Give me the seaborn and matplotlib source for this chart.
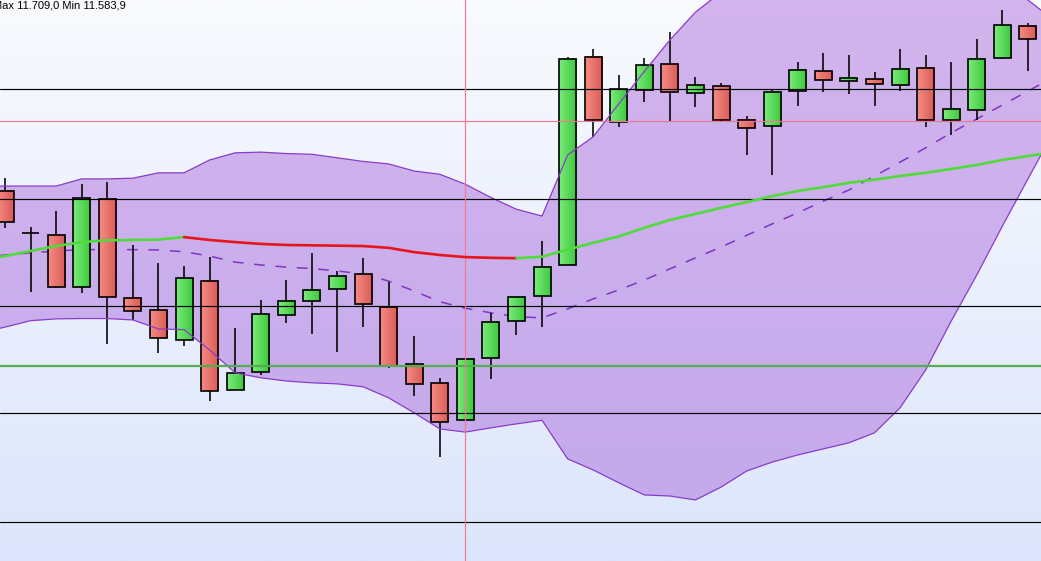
import numpy as np
import matplotlib
matplotlib.use("Agg")
import matplotlib.pyplot as plt
import seaborn as sns

# ---------------- data ----------------
bar_index = list(range(41))
open_ = [11658.4, 11646.6, 11645.9, 11631.5, 11656.2, 11628.3, 11624.9, 11616.6, 11633.2, 11602.6,
         11607.6, 11623.5, 11627.4, 11630.8, 11635.0, 11625.9, 11609.8, 11604.5, 11594.1, 11611.5,
         11621.8, 11628.9, 11637.5, 11695.8, 11677.6, 11686.5, 11693.8, 11685.7, 11687.6, 11678.2,
         11676.4, 11686.2, 11691.8, 11689.0, 11689.6, 11687.9, 11692.7, 11678.1, 11680.9, 11695.5,
         11704.5]
high = [11662.0, 11648.3, 11652.7, 11660.3, 11660.8, 11643.2, 11638.1, 11637.4, 11639.8, 11619.9,
        11627.8, 11633.4, 11640.9, 11636.0, 11639.5, 11632.8, 11617.7, 11606.0, 11611.2, 11624.2,
        11628.7, 11644.3, 11695.9, 11698.1, 11690.8, 11695.5, 11702.8, 11690.2, 11688.5, 11679.2,
        11686.8, 11694.4, 11697.0, 11696.4, 11691.6, 11698.1, 11696.4, 11694.4, 11700.9, 11709.0,
        11705.3]
low = [11648.0, 11630.1, 11631.2, 11629.8, 11615.4, 11622.2, 11613.0, 11615.0, 11599.6, 11602.6,
       11606.8, 11621.4, 11618.3, 11613.3, 11620.3, 11608.8, 11601.0, 11583.9, 11594.1, 11605.7,
       11618.1, 11620.2, 11637.5, 11673.5, 11676.3, 11683.2, 11678.0, 11681.9, 11677.6, 11668.5,
       11662.7, 11682.2, 11686.0, 11685.4, 11682.2, 11686.4, 11676.3, 11674.0, 11678.2, 11695.2,
       11691.8]
close = [11649.6, 11646.5, 11631.5, 11656.4, 11628.6, 11624.6, 11617.1, 11633.9, 11602.2, 11607.3,
         11623.8, 11627.6, 11630.5, 11634.4, 11626.6, 11609.4, 11604.2, 11593.6, 11611.2, 11621.6,
         11628.6, 11637.1, 11695.2, 11678.1, 11686.8, 11693.5, 11686.0, 11687.9, 11678.1, 11675.9,
         11686.0, 11692.1, 11689.3, 11689.9, 11688.2, 11692.4, 11678.1, 11681.2, 11695.2, 11704.7,
         11700.8]

# indicator values include one bar before and one after the visible window
band_index = list(range(-1, 42))
upper_band = [11659.7, 11659.7, 11659.7, 11659.7, 11661.7, 11661.7, 11661.9, 11663.4, 11663.4, 11667.0,
              11669.0, 11669.2, 11668.8, 11668.6, 11667.6, 11666.6, 11665.9, 11663.9, 11663.0, 11660.2,
              11656.5, 11653.2, 11651.3, 11668.4, 11673.5, 11682.7, 11691.8, 11700.6, 11708.4, 11714.0,
              11717.4, 11720.2, 11723.0, 11725.8, 11729.4, 11734.2, 11735.9, 11732.5, 11727.2, 11722.2,
              11716.3, 11711.8, 11706.2]
lower_band = [11618.6, 11620.2, 11622.0, 11622.5, 11622.6, 11622.6, 11622.2, 11619.7, 11619.5, 11613.8,
              11607.4, 11606.0, 11605.1, 11604.6, 11604.3, 11603.5, 11600.4, 11596.2, 11591.7, 11590.8,
              11592.0, 11593.1, 11594.1, 11583.3, 11580.2, 11576.6, 11573.2, 11572.9, 11571.8, 11575.4,
              11579.9, 11582.4, 11584.4, 11586.1, 11587.8, 11590.6, 11597.6, 11608.2, 11621.9, 11634.8,
              11648.5, 11661.7, 11674.8]
middle_band = [11639.3, 11640.4, 11641.0, 11641.5, 11641.9, 11641.9, 11641.9, 11641.8, 11641.3, 11640.1,
               11638.4, 11637.6, 11637.0, 11636.6, 11635.9, 11635.1, 11633.1, 11630.3, 11627.3, 11625.5,
               11624.2, 11623.1, 11622.8, 11625.3, 11628.1, 11630.6, 11633.4, 11636.5, 11639.6, 11642.6,
               11645.9, 11649.1, 11652.2, 11655.5, 11658.6, 11662.5, 11666.4, 11670.4, 11674.6, 11678.5,
               11682.4, 11686.3, 11690.2]
moving_avg = [11639.0, 11640.1, 11641.5, 11642.9, 11644.0, 11644.5, 11644.6, 11644.7, 11645.4, 11644.6,
              11644.0, 11643.5, 11643.2, 11643.1, 11643.0, 11642.9, 11642.4, 11641.2, 11640.4, 11639.8,
              11639.6, 11639.5, 11639.9, 11641.9, 11643.8, 11645.6, 11648.0, 11650.2, 11651.9, 11653.6,
              11655.2, 11656.9, 11658.3, 11659.4, 11660.6, 11661.5, 11662.5, 11663.4, 11664.5, 11665.6,
              11667.0, 11668.1, 11669.2]

grid_levels = [11686.9, 11656.1, 11626.1, 11596.2, 11565.6]
support_level = 11609.3
cursor_price = 11677.9
cursor_bar = 18
header = "Max 11.709,0 Min 11.583,9"

# ---------------- drawing ----------------
sns.set_theme(style="white")
plt.rcParams["font.family"] = ["Liberation Sans", "DejaVu Sans"]

fig = plt.figure(figsize=(10.41, 5.61), dpi=100)
ax = fig.add_axes([0, 0, 1, 1])

# background gradient
t = np.linspace(0, 1, 256)[:, None, None]
top = np.array([249, 250, 254]) / 255
bot = np.array([220, 229, 251]) / 255
img = top + (bot - top) * t
ax.imshow(img, extent=[0, 1, 0, 1], transform=ax.transAxes, aspect="auto", zorder=0)

# Bollinger band fill
ax.fill_between(band_index, lower_band, upper_band, color="#a45fd9", alpha=0.45, lw=0, zorder=1)

# middle band dashed
sns.lineplot(x=band_index, y=middle_band, estimator=None, color="#7d35c4", lw=1.1,
             linestyle=(0, (7, 7)), ax=ax, zorder=2)

# candles
width = 0.665
ax.vlines(bar_index, low, high, color="black", lw=1.15, zorder=3)
s = np.linspace(0, 1, 32)[None, :, None]
green_grad = np.array([122, 236, 122]) / 255 + (np.array([60, 198, 60]) / 255 - np.array([122, 236, 122]) / 255) * s
red_grad = np.array([245, 140, 132]) / 255 + (np.array([218, 90, 86]) / 255 - np.array([245, 140, 132]) / 255) * s
for i, o, c in zip(bar_index, open_, close):
    lo_, hi_ = min(o, c), max(o, c)
    grad = green_grad if c >= o else red_grad
    if hi_ - lo_ > 0.2:
        ax.imshow(grad, extent=[i - width / 2, i + width / 2, lo_, hi_], aspect="auto",
                  interpolation="bilinear", zorder=4)
bottoms = [min(o, c) for o, c in zip(open_, close)]
heights = [max(abs(c - o), 0.05) for o, c in zip(open_, close)]
ax.bar(bar_index, heights, bottom=bottoms, width=width, facecolor="none",
       edgecolor="black", linewidth=1.2, zorder=4.5)

# band edges
sns.lineplot(x=band_index, y=upper_band, estimator=None, color="#8a3cc8", lw=0.9, ax=ax, zorder=5)
sns.lineplot(x=band_index, y=lower_band, estimator=None, color="#8a3cc8", lw=0.9, ax=ax, zorder=5)

# horizontal lines
for lvl in grid_levels:
    ax.axhline(lvl, color="black", lw=0.85, zorder=6)
ax.axhline(support_level, color="#55ad50", lw=1.6, zorder=6)
ax.axhline(cursor_price, color="#f57890", lw=0.85, zorder=6, snap=True)
ax.axvline(cursor_bar, color="#f57890", lw=0.85, zorder=6, snap=True)

# moving average coloured by direction
runs = []
start = 0
rising = moving_avg[1] >= moving_avg[0]
for k in range(1, len(moving_avg)):
    r = moving_avg[k] >= moving_avg[k - 1]
    if r != rising:
        runs.append((start, k - 1, rising))
        start = k - 1
        rising = r
runs.append((start, len(moving_avg) - 1, rising))
for a, b, r in runs:
    sns.lineplot(x=band_index[a:b + 1], y=moving_avg[a:b + 1], estimator=None,
                 color="#4fdc3a" if r else "#e8141c", lw=1.9, ax=ax, zorder=7)

ax.set_xlim(-0.1955, 40.51)
ax.set_ylim(11554.7, 11711.8)
ax.axis("off")

fig.text(-0.0068, 1 - 8.5 / 561, header, fontsize=8, va="baseline", ha="left", color="black")

fig.savefig("out.png", dpi=100)
